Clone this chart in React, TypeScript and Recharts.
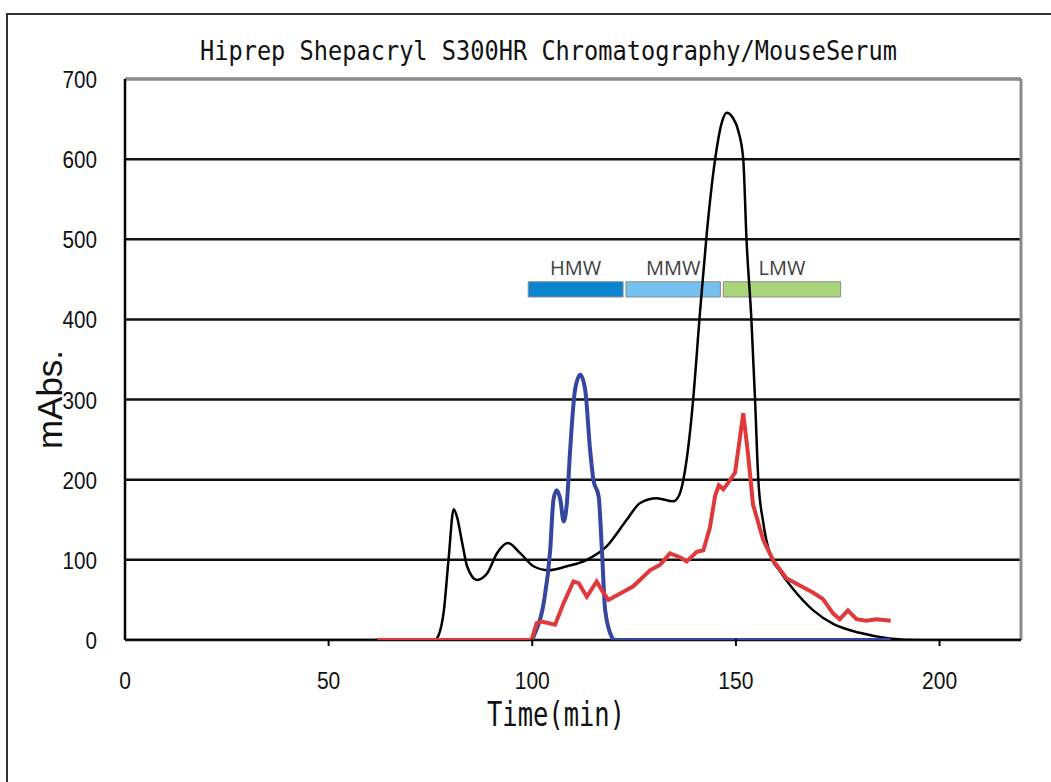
import React from "react";
import {
  LineChart,
  Line,
  XAxis,
  YAxis,
  CartesianGrid,
  ReferenceArea,
  ReferenceLine,
  Label,
} from "recharts";

// total UV trace (black)
const totalTime = [0, 76, 77, 78.3, 79.5, 80.7, 81.5, 82.8, 84, 86.4, 88.9, 91.3, 94, 97.1, 100.3, 104, 108.5, 113.4, 118.3, 123.2, 126.5, 130.5, 134.6, 136, 137.1, 138.7, 139.5, 141.2, 142.8, 144.9, 146.5, 147.7, 149.2, 150.6, 151.8, 152.6, 153.8, 154.7, 155.5, 156.7, 158.3, 160.8, 164, 169, 173.9, 180.4, 187.7, 195, 220];
const totalAbs = [0, 0, 6, 37, 104, 163, 154, 121, 92, 75, 83, 108, 121, 108, 92, 87, 92, 100, 117, 150, 171, 177, 173, 180, 200, 258, 300, 410, 505, 600, 645, 658, 652, 635, 600, 500, 400, 300, 200, 147, 108, 86, 64, 37, 20, 9, 2, 0, 0];

// blue trace
const blueTime = [62, 100, 100.3, 102.8, 104.4, 105.2, 106, 106.9, 107.7, 108.5, 109.3, 110.5, 111.8, 113, 114.2, 115, 116.3, 117.1, 117.9, 119.5, 120.3, 188];
const blueAbs = [0, 0, 4, 46, 112, 175, 187, 175, 148, 171, 237, 312, 331, 312, 237, 200, 179, 112, 37, 4, 0, 0];

// red trace
const redTime = [62, 99.8, 101.1, 102.3, 105.6, 107.7, 110.1, 111.4, 113.4, 115.8, 117.1, 118.7, 121.6, 124.8, 128.9, 131.4, 133.8, 136.4, 137.9, 140.4, 142, 143.6, 144.9, 145.8, 146.9, 148.1, 149.8, 151, 151.8, 153, 154.2, 156.7, 159.2, 162.4, 165.7, 169, 171.4, 173.9, 175.5, 177.5, 179.6, 182, 184.5, 188];
const redAbs = [0, 0, 21, 23, 19, 46, 73, 71, 54, 73, 62, 50, 58, 67, 87, 94, 108, 103, 98, 110, 112, 140, 180, 193, 188, 196, 209, 253, 283, 231, 169, 125, 99, 77, 68, 59, 51, 33, 26, 37, 26, 24, 26, 24];

// fraction bands
const bandNames = ["HMW", "MMW", "LMW"];
const bandStart = [99, 123, 146.9];
const bandEnd = [122.3, 146.2, 175.7];
const bandLow = 428;
const bandHigh = 447;

const xTicks = [0, 50, 100, 150, 200];
const yTicks = [0, 100, 200, 300, 400, 500, 600, 700];

const bandFill = ["#0b84cf", "#74c0ef", "#a9d57b"];

const toPoints = (t: number[], v: number[]) => t.map((x, i) => ({ t: x, v: v[i] }));

const totalData = toPoints(totalTime, totalAbs);
const blueData = toPoints(blueTime, blueAbs);
const redData = toPoints(redTime, redAbs);

const XTick = (props: any) => {
  const { x, y, payload } = props;
  const s = String(payload.value);
  return (
    <g>
      {payload.value > 0 && (
        <line x1={x} x2={x} y1={y} y2={y - 7} stroke="#000" strokeWidth={2} />
      )}
      <text
        x={x}
        y={y + 43}
        textAnchor="middle"
        fontFamily="Liberation Sans, Arial, sans-serif"
        fontSize={23}
        fill="#111"
        textLength={s.length * 11.7}
        lengthAdjust="spacingAndGlyphs"
      >
        {s}
      </text>
    </g>
  );
};

const YTick = (props: any) => {
  const { x, y, payload } = props;
  const s = String(payload.value);
  return (
    <text
      x={x - 22}
      y={y + 9}
      textAnchor="end"
      fontFamily="Liberation Sans, Arial, sans-serif"
      fontSize={23}
      fill="#111"
      textLength={s.length * 11.5}
      lengthAdjust="spacingAndGlyphs"
    >
      {s}
    </text>
  );
};

export default function App() {
  return (
    <div
      style={{
        position: "absolute",
        left: 0,
        top: 0,
        width: 1051,
        height: 782,
        overflow: "hidden",
        background: "#fff",
      }}
    >
      <div
        style={{
          position: "absolute",
          left: 6,
          top: 13,
          width: 1100,
          height: 820,
          borderLeft: "2px solid #333",
          borderTop: "2px solid #333",
        }}
      />
      <svg
        width={1051}
        height={782}
        style={{ position: "absolute", left: 0, top: 0, pointerEvents: "none" }}
      >
        <text
          x={548.5}
          y={60}
          textAnchor="middle"
          fontFamily="DejaVu Sans Mono, monospace"
          fontSize={27}
          fill="#111"
          textLength={697}
          lengthAdjust="spacingAndGlyphs"
        >
          Hiprep Shepacryl S300HR Chromatography/MouseSerum
        </text>
      </svg>
      <div style={{ position: "absolute", left: 0, top: 0 }}>
        <LineChart
          width={1051}
          height={782}
          margin={{ top: 79, right: 30, bottom: 82, left: 65 }}
        >
          <CartesianGrid vertical={false} stroke="#111" strokeWidth={2.5} />
          <XAxis
            type="number"
            dataKey="t"
            domain={[0, 220]}
            ticks={xTicks}
            height={60}
            tickLine={false}
            tickMargin={0}
            tick={<XTick />}
            axisLine={false}
            allowDataOverflow
          >
            <Label
              content={(p: any) => {
                const vb = p.viewBox;
                return (
                  <text
                    x={556}
                    y={vb.y + 86}
                    textAnchor="middle"
                    fontFamily="DejaVu Sans Mono, monospace"
                    fontSize={33}
                    fill="#111"
                    textLength={138}
                    lengthAdjust="spacingAndGlyphs"
                  >
                    Time(min)
                  </text>
                );
              }}
            />
          </XAxis>
          <YAxis
            type="number"
            domain={[0, 700]}
            ticks={yTicks}
            width={60}
            tickLine={false}
            tickMargin={0}
            tick={<YTick />}
            axisLine={{ stroke: "#000", strokeWidth: 2.5 }}
            allowDataOverflow
          >
            <Label
              content={(p: any) => {
                const vb = p.viewBox;
                const cy = vb.y + vb.height / 2 + 40;
                return (
                  <text
                    x={62}
                    y={cy}
                    transform={`rotate(-90 62 ${cy})`}
                    textAnchor="middle"
                    fontFamily="Liberation Sans, Arial, sans-serif"
                    fontSize={35}
                    fill="#111"
                  >
                    mAbs.
                  </text>
                );
              }}
            />
          </YAxis>
          <ReferenceLine y={700} stroke="#8a8a8a" strokeWidth={3} />
          <ReferenceLine x={220} stroke="#8a8a8a" strokeWidth={3} />
          {bandNames.map((name, i) => (
            <ReferenceArea
              key={name}
              x1={bandStart[i]}
              x2={bandEnd[i]}
              y1={bandLow}
              y2={bandHigh}
              fill={bandFill[i]}
              fillOpacity={1}
              stroke="#8c8c8c"
              strokeWidth={1}
              label={{
                value: name,
                position: "top",
                offset: 7,
                fill: "#404040",
                fontSize: 20,
                fontFamily: "Open Sans, sans-serif",
              }}
            />
          ))}
          <Line
            data={totalData}
            dataKey="v"
            type="monotone"
            stroke="#000"
            strokeWidth={2.5}
            dot={false}
            isAnimationActive={false}
          />
          <Line
            data={blueData}
            dataKey="v"
            type="monotone"
            stroke="#3446a0"
            strokeWidth={4}
            dot={false}
            isAnimationActive={false}
          />
          <Line
            data={redData}
            dataKey="v"
            type="linear"
            stroke="#e0393b"
            strokeWidth={4}
            dot={false}
            isAnimationActive={false}
          />
        </LineChart>
      </div>
    </div>
  );
}
